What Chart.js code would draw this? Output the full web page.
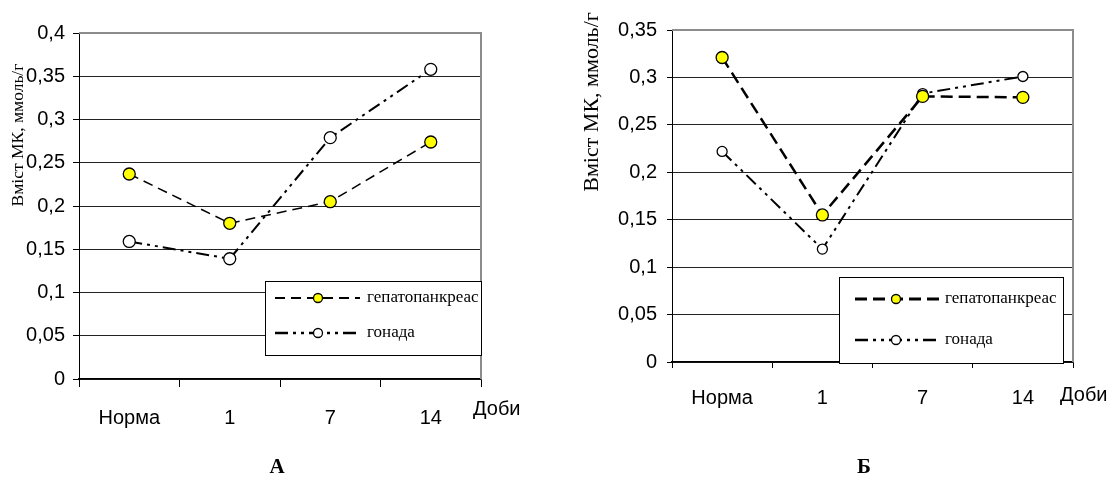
<!doctype html>
<html>
<head>
	<title>Вміст МК</title>
	<script src="https://cdn.jsdelivr.net/npm/chart.js@4.4.1"></script>
	<style>
	* {margin: 0; padding: 0;}
	body {width: 1109px; height: 481px; background: #fff; position: relative; overflow: hidden;}
	canvas {position: absolute; top: 0;}
	#canvas_a {left: 0;}
	#canvas_b {left: 555px;}
	</style>
</head>
<body>
	<canvas id="canvas_a" width="555" height="481"></canvas>
	<canvas id="canvas_b" width="554" height="481"></canvas>

<script type="text/javascript">
	// data
	var days = ['Норма', '1', '7', '14'];
	var series_names = ['гепатопанкреас', 'гонада'];
	var hepato_a = [0.237, 0.180, 0.205, 0.274];
	var gonad_a = [0.159, 0.139, 0.279, 0.358];
	var hepato_b = [0.321, 0.155, 0.280, 0.279];
	var gonad_b = [0.222, 0.119, 0.283, 0.301];
	var y_max_a = 0.4;
	var y_max_b = 0.35;
	var y_step = 0.05;
	var y_title = 'Вміст МК, ммоль/г';
	var x_unit = 'Доби';
	var panel_letters = ['А', 'Б'];

	var SANS = '"Liberation Sans", Arial, sans-serif';
	var SERIF = '"Liberation Serif", serif';

	function fmt(value) {
		return (Math.round(value * 100) / 100).toString().replace('.', ',');
	}

	var framePlugin = {
		id: 'frame',
		beforeDatasetsDraw: function(chart, args, o) {
			var a = chart.chartArea, ctx = chart.ctx;
			ctx.save();
			ctx.strokeStyle = '#8c8c8c';
			ctx.lineWidth = 2;
			ctx.beginPath();
			ctx.moveTo(a.left, a.top);
			ctx.lineTo(a.right, a.top);
			ctx.lineTo(a.right, a.bottom);
			ctx.stroke();
			ctx.restore();
		},
		afterDraw: function(chart, args, o) {
			var a = chart.chartArea, ctx = chart.ctx;
			ctx.save();
			ctx.fillStyle = '#000';

			// y title
			ctx.save();
			ctx.translate(o.titleX, o.titleY);
			ctx.rotate(-Math.PI / 2);
			ctx.font = o.titleSize + 'px ' + SERIF;
			ctx.textAlign = 'center';
			ctx.textBaseline = 'middle';
			ctx.fillText(y_title, 0, 0);
			ctx.restore();

			// unit
			ctx.font = '20px ' + SANS;
			ctx.textAlign = 'left';
			ctx.textBaseline = 'middle';
			ctx.fillText(x_unit, a.right + o.unitDx, o.unitY);

			// panel letter
			ctx.font = 'bold 21px ' + SERIF;
			ctx.textAlign = 'center';
			ctx.fillText(o.letter, o.letterX, o.letterY);

			// legend
			var b = o.box;
			ctx.fillStyle = '#fff';
			ctx.fillRect(b[0], b[1], b[2], b[3]);
			ctx.strokeStyle = '#000';
			ctx.lineWidth = 1;
			ctx.strokeRect(b[0] + 0.5, b[1] + 0.5, b[2], b[3]);
			chart.data.datasets.forEach(function(ds, i) {
				var y = o.rows[i];
				ctx.save();
				ctx.strokeStyle = '#000';
				ctx.lineWidth = ds.borderWidth + 0.5;
				ctx.setLineDash(ds.borderDash);
				ctx.beginPath();
				ctx.moveTo(o.sample[0], y);
				ctx.lineTo(o.sample[1], y);
				ctx.stroke();
				ctx.setLineDash([]);
				ctx.beginPath();
				ctx.arc(o.mark, y, 4.5, 0, Math.PI * 2);
				ctx.fillStyle = ds.pointBackgroundColor;
				ctx.fill();
				ctx.lineWidth = 1.3;
				ctx.stroke();
				ctx.restore();
				ctx.fillStyle = '#000';
				ctx.font = '17px ' + SERIF;
				ctx.textAlign = 'left';
				ctx.textBaseline = 'middle';
				ctx.fillText(ds.label, o.text, y);
			});
			ctx.restore();
		}
	};

	function makeChart(id, hepato, gonad, yMax, lay) {
		var config = {
			type: 'line',
			data: {
				labels: days,
				datasets: [
				{
					label: series_names[0],
					data: hepato,
					borderColor: '#000',
					borderWidth: lay.hepatoWidth,
					borderDash: lay.hepatoDash,
					pointRadius: 6,
					pointBackgroundColor: '#ffff00',
					pointBorderColor: '#000',
					pointBorderWidth: 1.3,
					fill: false,
					tension: 0,
				},
				{
					label: series_names[1],
					data: gonad,
					borderColor: '#000',
					borderWidth: 2,
					borderDash: [13, 5, 3, 5, 3, 5],
					pointRadius: lay.gonadRadius,
					pointBackgroundColor: '#fff',
					pointBorderColor: '#000',
					pointBorderWidth: 1.3,
					fill: false,
					tension: 0,
				}
			]
			},
			options: {
				responsive: false,
				animation: false,
				devicePixelRatio: 1,
				layout: {
					padding: {top: lay.top, right: lay.right, left: 0, bottom: 0}
				},
				scales: {
					x: {
						type: 'category',
						offset: true,
						grid: {
							offset: true,
							drawOnChartArea: false,
							tickLength: lay.xTick,
							color: '#000',
						},
						border: {color: '#000', width: 1.5},
						ticks: {
							color: '#000',
							font: {family: SANS, size: 20},
							padding: lay.xPad,
							maxRotation: 0,
						},
						afterFit: function(scale) { scale.height = lay.xHeight; }
					},
					y: {
						min: 0,
						max: yMax,
						grid: {
							color: function(c) {
								return c.tick && c.tick.value > yMax - 1e-6 ? 'rgba(0,0,0,0)' : '#222';
							},
							tickColor: '#000',
							tickLength: lay.yTick,
							lineWidth: 1,
						},
						border: {color: '#000', width: 1},
						ticks: {
							stepSize: y_step,
							color: '#000',
							font: {family: SANS, size: 20},
							padding: lay.yPad,
							callback: function(value) { return fmt(value); }
						},
						afterFit: function(scale) { scale.width = lay.yWidth; }
					}
				},
				plugins: {
					legend: {display: false},
					tooltip: {enabled: false},
					frame: lay.frame
				}
			},
			plugins: [framePlugin]
		};
		return new Chart(document.getElementById(id), config);
	}

	var chart_a = makeChart('canvas_a', hepato_a, gonad_a, y_max_a, {
		top: 33, right: 74, yWidth: 79, xHeight: 102,
		xTick: 8, xPad: 19, yTick: 6, yPad: 8,
		hepatoWidth: 1.5, hepatoDash: [10, 6], gonadRadius: 6,
		frame: {
			titleX: 18, titleY: 135, titleSize: 17.5,
			unitDx: -8, unitY: 409,
			letter: panel_letters[0], letterX: 277, letterY: 468,
			box: [265, 281, 216, 74],
			rows: [298, 333], sample: [275, 360], mark: 318, text: 367
		}
	});

	var chart_b = makeChart('canvas_b', hepato_b, gonad_b, y_max_b, {
		top: 30, right: 36, yWidth: 117, xHeight: 119,
		xTick: 6, xPad: 18, yTick: 5, yPad: 10,
		hepatoWidth: 2.5, hepatoDash: [12, 6], gonadRadius: 5,
		frame: {
			titleX: 37, titleY: 102, titleSize: 22,
			unitDx: -13, unitY: 395,
			letter: panel_letters[1], letterX: 309, letterY: 468,
			box: [284, 277, 224, 86],
			rows: [299, 340], sample: [300, 385], mark: 341, text: 390
		}
	});
</script>
</body>
</html>
